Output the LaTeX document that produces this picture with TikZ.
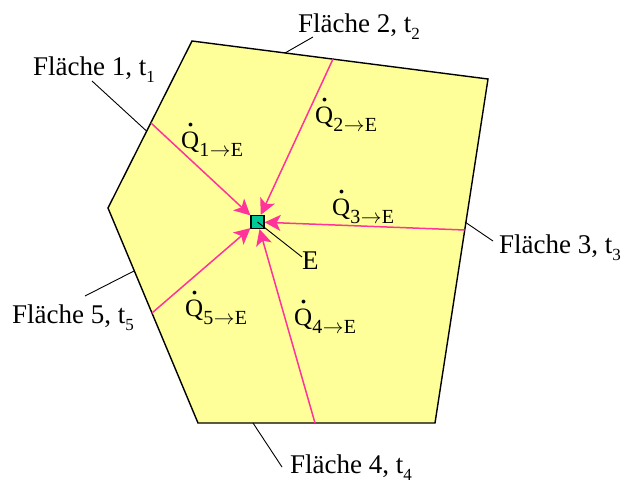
\documentclass[tikz,border=0pt]{standalone}
\usepackage{fontspec}
\setmainfont{Liberation Serif}
\usetikzlibrary{arrows.meta}
\definecolor{fillY}{RGB}{255,255,153}
\definecolor{flux}{RGB}{255,51,153}
\definecolor{tealbox}{RGB}{0,200,150}
\newcommand\flab[1]{\fontsize{27}{27}\selectfont Fläche #1, t\raisebox{-7.5pt}{\fontsize{17}{17}\selectfont #1}}
\newcommand\qlab[1]{\fontsize{25}{25}\selectfont\makebox[0pt][l]{\hspace{5.5pt}\raisebox{21.5pt}{\fontsize{32}{32}\selectfont .}}Q\raisebox{-8pt}{\fontsize{20}{20}\selectfont #1\kern0.5pt$\rightarrow$\kern0.5pt E}}
\begin{document}
\begin{tikzpicture}[x=1pt,y=-1pt,
  txt/.style={anchor=base west,inner sep=0pt},
  sq/.style={draw=black,line width=1.2pt,fill=tealbox,minimum size=13pt,inner sep=0pt},
  fluxline/.style={draw=flux,line width=1.5pt,-{Stealth[length=16pt,width=16pt,inset=4pt]}},
  leader/.style={draw=black,line width=0.9pt}]
\useasboundingbox (0,0) rectangle (627,483);
\coordinate (P1) at (192,41);
\coordinate (P2) at (488,79);
\coordinate (P3) at (435,423);
\coordinate (P4) at (198,423);
\coordinate (P5) at (108,208);
\draw[fill=fillY,line width=1.4pt,line join=miter] (P1)--(P2)--(P3)--(P4)--(P5)--cycle;
% edge points
\coordinate (e1) at (151,123);
\coordinate (e2) at (333,59);
\coordinate (e3) at (464.7,230);
\coordinate (e4) at (315,423);
\coordinate (e5) at (152,313);
\node[sq] (E) at (257.5,222) {};
\foreach \i in {1,...,5} {\draw[fluxline] (e\i) -- (E);}
% Q labels
\node[txt] (q1) at (181,148) {\qlab{1}};
\node[txt] (q2) at (315,123) {\qlab{2}};
\node[txt] (q3) at (332,215) {\qlab{3}};
\node[txt] (q4) at (294,325) {\qlab{4}};
\node[txt] (q5) at (185,316) {\qlab{5}};
% E label
\node[txt] (Elab) at (302,269) {\fontsize{27}{27}\selectfont E};
\coordinate (Eend) at (302,257);
\draw[leader] (E.center) -- (Eend);
% face labels
\node[txt] (f1) at (33,75) {\flab{1}};
\node[txt] (f2) at (298,32) {\flab{2}};
\node[txt] (f3) at (499,253) {\flab{3}};
\node[txt] (f4) at (290,473) {\flab{4}};
\node[txt] (f5) at (12,323) {\flab{5}};
% leaders
\coordinate (a1) at (92,81);   \coordinate (b1) at (146.5,131);
\coordinate (a2) at (313,37);  \coordinate (b2) at (285,53);
\coordinate (a3) at (493,241); \coordinate (b3) at (465,222);
\coordinate (a4) at (282,467); \coordinate (b4) at (253,423);
\coordinate (a5) at (85,296);  \coordinate (b5) at (134,271);
\foreach \i in {1,...,5} {\draw[leader] (a\i) -- (b\i);}
\end{tikzpicture}
\end{document}
